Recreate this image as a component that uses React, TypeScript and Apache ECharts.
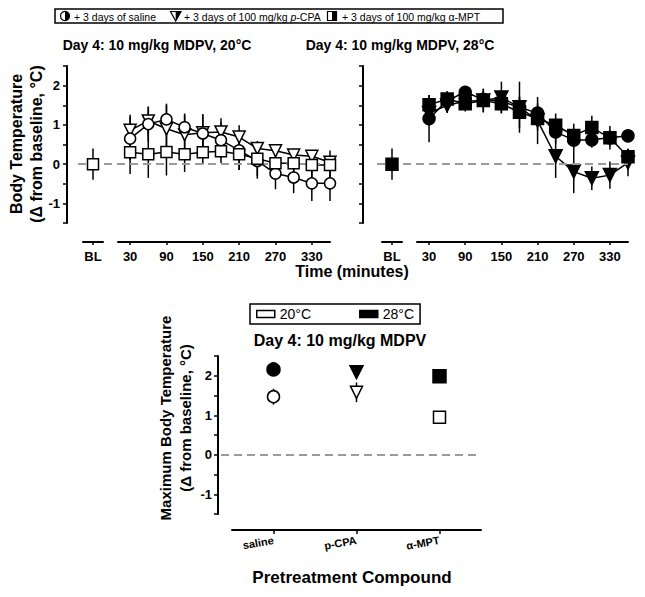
import React, { useEffect, useRef } from 'react';
import * as echarts from 'echarts';

// ---------- data ----------
const times = [30, 60, 90, 120, 150, 180, 210, 240, 270, 300, 330, 360];
const timeTicks = [30, 90, 150, 210, 270, 330];
const blCategory = ['BL'];

// 20°C panel
const saline20 = [0.65, 1.02, 1.14, 0.94, 0.78, 0.61, 0.35, 0.08, -0.24, -0.34, -0.49, -0.49];
const saline20Err = [0.55, 0.45, 0.4, 0.35, 0.5, 0.45, 0.5, 0.45, 0.4, 0.4, 0.45, 0.45];
const pcpa20 = [0.86, 1.1, 0.9, 0.75, 0.8, 0.82, 0.69, 0.4, 0.34, 0.23, 0.2, 0.05];
const pcpa20Err = [0.4, 0.35, 0.6, 0.5, 0.45, 0.35, 0.3, 0.15, 0.12, 0.12, 0.12, 0.12];
const mpt20 = [0.3, 0.25, 0.31, 0.25, 0.3, 0.33, 0.25, 0.14, 0.02, 0.02, -0.02, -0.02];
const mpt20Err = [0.55, 0.6, 0.6, 0.45, 0.3, 0.3, 0.4, 0.45, 0.35, 0.3, 0.3, 0.37];
const bl20 = [0];
const bl20Err = [0.4];

// 28°C panel
const saline28 = [1.16, 1.62, 1.83, 1.65, 1.6, 1.45, 1.3, 0.82, 0.61, 0.62, 0.67, 0.72];
const saline28Err = [0.6, 0.2, 0.15, 0.2, 0.2, 0.25, 0.25, 0.3, 0.25, 0.2, 0.2, 0.15];
const pcpa28 = [1.3, 1.5, 1.6, 1.62, 1.7, 1.45, 1.11, 0.2, -0.19, -0.36, -0.28, 0.04];
const pcpa28Err = [0.3, 0.2, 0.2, 0.3, 0.4, 0.65, 0.6, 0.55, 0.55, 0.3, 0.35, 0.35];
const mpt28 = [1.51, 1.66, 1.54, 1.62, 1.54, 1.32, 1.16, 0.99, 0.73, 0.93, 0.67, 0.19];
const mpt28Err = [0.25, 0.2, 0.2, 0.3, 0.25, 0.4, 0.3, 0.3, 0.3, 0.3, 0.3, 0.2];
const bl28 = [0];
const bl28Err = [0.4];

// maximum body temperature panel
const compounds = ['saline', 'p-CPA', 'α-MPT'];
const max20 = [1.47, 1.58, 0.95];
const max20Err = [0.2, 0.25, 0.05];
const max28 = [2.16, 2.09, 1.99];
const max28Err = [0.08, 0.1, 0.08];
const compoundSymbols = ['circle', 'triangle', 'rect'];
const compoundRotations = [0, 180, 0];

// ---------- helpers ----------
const FONT = '"Liberation Sans", Arial, Helvetica, sans-serif';
const BLACK = '#000';

function errorBars(axisIndex: number, xs: any[], vals: number[], errs: number[]) {
  return {
    type: 'custom',
    xAxisIndex: axisIndex,
    yAxisIndex: axisIndex,
    z: 1,
    silent: true,
    data: xs.map((x, i) => [x, vals[i] - errs[i], vals[i] + errs[i]]),
    encode: { x: 0, y: [1, 2] },
    renderItem: (_p: any, api: any) => {
      const x = api.value(0);
      const a = api.coord([x, api.value(1)]);
      const b = api.coord([x, api.value(2)]);
      return {
        type: 'line',
        shape: { x1: a[0], y1: a[1], x2: b[0], y2: b[1] },
        style: { stroke: BLACK, lineWidth: 1.5 },
      };
    },
  };
}

function curve(axisIndex: number, vals: number[]) {
  return {
    type: 'line',
    xAxisIndex: axisIndex,
    yAxisIndex: axisIndex,
    z: 2,
    silent: true,
    symbol: 'none',
    data: times.map((t, i) => [t, vals[i]]),
    lineStyle: { color: BLACK, width: 1.5 },
  };
}

function markers(axisIndex: number, xs: any[], vals: number[], symbol: string, rotate: number, filled: boolean, size: number, z: number) {
  return {
    type: 'scatter',
    xAxisIndex: axisIndex,
    yAxisIndex: axisIndex,
    z,
    silent: true,
    symbol,
    symbolRotate: rotate,
    symbolSize: size,
    data: xs.map((x, i) => [x, vals[i]]),
    itemStyle: { color: filled ? BLACK : '#fff', borderColor: BLACK, borderWidth: 1.5, opacity: 1 },
  };
}

function zeroLine(axisIndex: number) {
  return {
    type: 'line',
    xAxisIndex: axisIndex,
    yAxisIndex: axisIndex,
    z: 0,
    silent: true,
    data: [],
    markLine: {
      silent: true,
      symbol: 'none',
      label: { show: false },
      lineStyle: { color: '#9a9a9a', width: 2, type: [8, 5] },
      data: [{ yAxis: 0 }],
    },
  };
}

const axisLine = { show: true, onZero: false, lineStyle: { color: BLACK, width: 2 } };
const tickStyle = { color: BLACK, width: 1.5 };
const labelFont = { color: BLACK, fontFamily: FONT, fontWeight: 'bold' as const, fontSize: 13 };

function yVisible(grid: number, offset: number, showLabels: boolean, margin: number) {
  return {
    gridIndex: grid,
    type: 'value',
    min: -1.5,
    max: 2.5,
    interval: 0.5,
    offset,
    axisLine,
    axisTick: { show: true, length: 4, lineStyle: tickStyle },
    axisLabel: {
      show: showLabels,
      ...labelFont,
      margin,
      formatter: (v: number) => (Number.isInteger(v) ? String(v) : ''),
    },
    splitLine: { show: false },
  };
}
function yHidden(grid: number) {
  return { gridIndex: grid, type: 'value', min: -1.5, max: 2.5, show: false, splitLine: { show: false } };
}
function xHidden(grid: number) {
  return { gridIndex: grid, type: 'value', min: 0, max: 1, show: false, splitLine: { show: false } };
}
function xBL(grid: number) {
  return {
    gridIndex: grid,
    type: 'category',
    data: blCategory,
    offset: 19,
    axisLine,
    axisTick: { show: true, alignWithLabel: true, length: 3, lineStyle: tickStyle },
    axisLabel: { ...labelFont, margin: 8 },
    splitLine: { show: false },
  };
}
function xTime(grid: number) {
  return {
    gridIndex: grid,
    type: 'value',
    min: 10,
    max: 360,
    offset: 19,
    axisLine,
    axisTick: { show: true, length: 3, lineStyle: tickStyle, customValues: timeTicks },
    axisLabel: { ...labelFont, margin: 8, customValues: timeTicks },
    splitLine: { show: false },
  };
}

function text(x: number, y: number, str: string, size: number, bold: boolean, rotation = 0, align = 'center', rich?: any) {
  return {
    type: 'text',
    x,
    y,
    rotation,
    silent: true,
    style: {
      text: str,
      fill: BLACK,
      fontFamily: FONT,
      fontSize: size,
      fontWeight: bold ? 'bold' : 'normal',
      align,
      verticalAlign: 'middle',
      rich,
    },
  };
}

export default function App() {
  const ref = useRef<HTMLDivElement>(null);
  useEffect(() => {
    if (!ref.current) return;
    const chart = echarts.init(ref.current, null, { renderer: 'svg' });
    const italicRich = { i: { fontStyle: 'italic', fontFamily: FONT, fontSize: 10.5, fill: BLACK } };
    const option: any = {
      animation: false,
      backgroundColor: '#fff',
      grid: [
        { left: 83, top: 66, width: 20, height: 157 },
        { left: 118, top: 66, width: 212, height: 157 },
        { left: 382, top: 66, width: 20, height: 157 },
        { left: 417, top: 66, width: 211, height: 157 },
        { left: 78, top: 66, width: 252, height: 157 },
        { left: 377, top: 66, width: 251, height: 157 },
        { left: 232, top: 356, width: 249, height: 158 },
        { left: 221, top: 356, width: 260, height: 158 },
      ],
      xAxis: [
        xBL(0),
        xTime(1),
        xBL(2),
        xTime(3),
        xHidden(4),
        xHidden(5),
        {
          gridIndex: 6,
          type: 'category',
          data: compounds,
          offset: 16,
          axisLine,
          axisTick: { show: true, alignWithLabel: true, length: 4, lineStyle: tickStyle },
          axisLabel: { ...labelFont, fontSize: 11, rotate: 10, margin: 10 },
          splitLine: { show: false },
        },
        xHidden(7),
      ],
      yAxis: [
        yVisible(0, 16, true, 7),
        yHidden(1),
        yVisible(2, 19, false, 7),
        yHidden(3),
        yHidden(4),
        yHidden(5),
        yVisible(6, 14, true, 6),
        yHidden(7),
      ],
      legend: {
        data: [
          { name: '20°C', icon: 'rect', itemStyle: { color: '#fff', borderColor: BLACK, borderWidth: 1.5, opacity: 1 } },
          { name: '28°C', icon: 'rect', itemStyle: { color: BLACK, borderColor: BLACK, borderWidth: 1.5, opacity: 1 } },
        ],
        left: 250,
        top: 304,
        itemWidth: 18,
        itemHeight: 7,
        itemGap: 48,
        padding: [3, 6],
        borderColor: BLACK,
        borderWidth: 1.5,
        selectedMode: false,
        textStyle: { color: BLACK, fontFamily: FONT, fontSize: 14 },
      },
      series: [
        zeroLine(4),
        zeroLine(5),
        zeroLine(7),
        // 20°C panel
        errorBars(0, blCategory, bl20, bl20Err),
        errorBars(1, times, saline20, saline20Err),
        errorBars(1, times, pcpa20, pcpa20Err),
        errorBars(1, times, mpt20, mpt20Err),
        curve(1, saline20),
        curve(1, pcpa20),
        curve(1, mpt20),
        markers(0, blCategory, bl20, 'rect', 0, false, 11, 5),
        markers(1, times, saline20, 'circle', 0, false, 11, 4),
        markers(1, times, pcpa20, 'triangle', 180, false, 12, 3),
        markers(1, times, mpt20, 'rect', 0, false, 11, 5),
        // 28°C panel
        errorBars(2, blCategory, bl28, bl28Err),
        errorBars(3, times, saline28, saline28Err),
        errorBars(3, times, pcpa28, pcpa28Err),
        errorBars(3, times, mpt28, mpt28Err),
        curve(3, saline28),
        curve(3, pcpa28),
        curve(3, mpt28),
        markers(2, blCategory, bl28, 'rect', 0, true, 12, 5),
        markers(3, times, saline28, 'circle', 0, true, 12, 4),
        markers(3, times, pcpa28, 'triangle', 180, true, 13, 3),
        markers(3, times, mpt28, 'rect', 0, true, 12, 5),
        // maximum panel
        errorBars(6, compounds, max20, max20Err),
        errorBars(6, compounds, max28, max28Err),
        {
          type: 'scatter',
          name: '20°C',
          xAxisIndex: 6,
          yAxisIndex: 6,
          z: 4,
          silent: true,
          symbolSize: 12,
          itemStyle: { color: '#fff', borderColor: BLACK, borderWidth: 1.5, opacity: 1 },
          data: compounds.map((c, i) => ({ value: [c, max20[i]], symbol: compoundSymbols[i], symbolRotate: compoundRotations[i] })),
        },
        {
          type: 'scatter',
          name: '28°C',
          xAxisIndex: 6,
          yAxisIndex: 6,
          z: 4,
          silent: true,
          symbolSize: 13,
          itemStyle: { color: BLACK, borderColor: BLACK, borderWidth: 1.5, opacity: 1 },
          data: compounds.map((c, i) => ({ value: [c, max28[i]], symbol: compoundSymbols[i], symbolRotate: compoundRotations[i] })),
        },
      ],
      graphic: [
        // top legend
        { type: 'rect', silent: true, shape: { x: 55, y: 9, width: 448, height: 14 }, style: { fill: '#fff', stroke: BLACK, lineWidth: 1.5 } },
        { type: 'circle', silent: true, shape: { cx: 65, cy: 16, r: 4.5 }, style: { fill: '#fff', stroke: BLACK, lineWidth: 1.2 } },
        { type: 'sector', silent: true, shape: { cx: 65, cy: 16, r0: 0, r: 4.5, startAngle: -Math.PI / 2, endAngle: Math.PI / 2, clockwise: true }, style: { fill: BLACK } },
        text(74, 16.5, '+ 3 days of saline', 10.5, false, 0, 'left'),
        { type: 'polygon', silent: true, shape: { points: [[170.5, 11.5], [181, 11.5], [175.7, 21]] }, style: { fill: '#fff', stroke: BLACK, lineWidth: 1.2 } },
        { type: 'polygon', silent: true, shape: { points: [[175.7, 11.5], [181, 11.5], [175.7, 21]] }, style: { fill: BLACK } },
        text(184, 16.5, '+ 3 days of 100 mg/kg {i|p}-CPA', 10.5, false, 0, 'left', italicRich),
        { type: 'rect', silent: true, shape: { x: 327.5, y: 11.5, width: 9, height: 9 }, style: { fill: '#fff', stroke: BLACK, lineWidth: 1.2 } },
        { type: 'rect', silent: true, shape: { x: 332, y: 11.5, width: 4.5, height: 9 }, style: { fill: BLACK } },
        text(342, 16.5, '+ 3 days of 100 mg/kg α-MPT', 10.5, false, 0, 'left'),
        // panel titles
        text(157, 45, 'Day 4: 10 mg/kg MDPV, 20°C', 14, true),
        text(400, 45, 'Day 4: 10 mg/kg MDPV, 28°C', 14, true),
        text(340, 340, 'Day 4: 10 mg/kg MDPV', 16, true),
        // axis titles
        text(352, 271, 'Time (minutes)', 16, true),
        text(352, 577, 'Pretreatment Compound', 17, true),
        text(16, 144, 'Body Temperature', 16, true, Math.PI / 2),
        text(36, 144, '(Δ from baseline, °C)', 16, true, Math.PI / 2),
        text(165, 418, 'Maximum Body Temperature', 15, true, Math.PI / 2),
        text(185, 418, '(Δ from baseline, °C)', 15, true, Math.PI / 2),
      ],
    };
    chart.setOption(option);
    return () => chart.dispose();
  }, []);
  return <div ref={ref} style={{ position: 'fixed', left: 0, top: 0, width: 645, height: 597, background: '#fff' }} />;
}
